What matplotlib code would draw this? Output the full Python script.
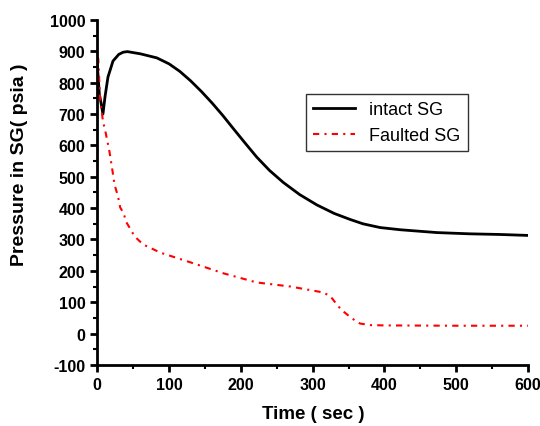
import matplotlib
matplotlib.use("Agg")
import matplotlib.pyplot as plt
from matplotlib.ticker import MultipleLocator

plt.rcParams['font.family'] = ['Liberation Sans', 'DejaVu Sans']
plt.rcParams['axes.unicode_minus'] = False

# intact steam generator pressure (psia) vs time (sec)
t_intact = [0, 3, 5, 8, 11, 15, 22, 30, 36, 42, 60, 83, 100, 115, 130, 145,
            160, 175, 189, 205, 222, 240, 259, 282, 306, 330, 352, 370, 394,
            422, 473, 519, 560, 599]
p_intact = [860, 763, 740, 700, 757, 818, 869, 890, 897, 899, 892, 879, 860,
            836, 806, 772, 735, 695, 655, 610, 563, 520, 482, 443, 410, 383,
            364, 350, 338, 331, 322, 318, 316, 313]

# faulted steam generator
t_fault = [0, 1.5, 4, 8, 12, 17, 21, 24, 29, 32, 37, 40, 45, 52, 64, 88, 130,
           176, 222, 269, 315, 325, 336, 343, 355, 366, 380, 400, 500, 600]
p_fault = [880, 877, 750, 677, 638, 581, 523, 476, 437, 402, 383, 357, 338,
           310, 284, 258, 227, 192, 163, 150, 131, 118, 86, 70, 48, 32, 27,
           26, 25, 25]

fig = plt.figure(figsize=(5.4, 4.27), dpi=100)
ax = fig.add_axes([0.18, 0.143, 0.798, 0.808])

ax.plot(t_intact, p_intact, color='black', lw=2, label='intact SG')
ax.plot(t_fault, p_fault, color='red', lw=1.5, linestyle=(0, (3, 2.5, 1, 2.5)),
        label='Faulted SG')

ax.set_xlim(0, 600)
ax.set_ylim(-100, 1000)
ax.xaxis.set_major_locator(MultipleLocator(100))
ax.xaxis.set_minor_locator(MultipleLocator(50))
ax.yaxis.set_major_locator(MultipleLocator(100))
ax.yaxis.set_minor_locator(MultipleLocator(50))

for s in ['top', 'right']:
    ax.spines[s].set_visible(False)
for s in ['left', 'bottom']:
    ax.spines[s].set_linewidth(2)

ax.tick_params(which='major', direction='out', length=5, width=2, labelsize=11.5)
ax.tick_params(which='minor', direction='out', length=3, width=1.5)
for lab in ax.get_xticklabels() + ax.get_yticklabels():
    lab.set_fontweight('bold')

ax.set_xlabel('Time ( sec )', fontsize=13.5, fontweight='bold')
ax.set_ylabel('Pressure in SG( psia )', fontsize=14, fontweight='bold')
ax.xaxis.set_label_coords(0.501, -0.116)
ax.yaxis.set_label_coords(-0.16, 0.583)

leg = ax.legend(loc='upper left', bbox_to_anchor=(0.485, 0.786), fontsize=13,
                frameon=True, fancybox=False, edgecolor='black',
                handlelength=2.3, borderaxespad=0)
leg.get_frame().set_linewidth(1)

fig.savefig('out.png', dpi=100)
